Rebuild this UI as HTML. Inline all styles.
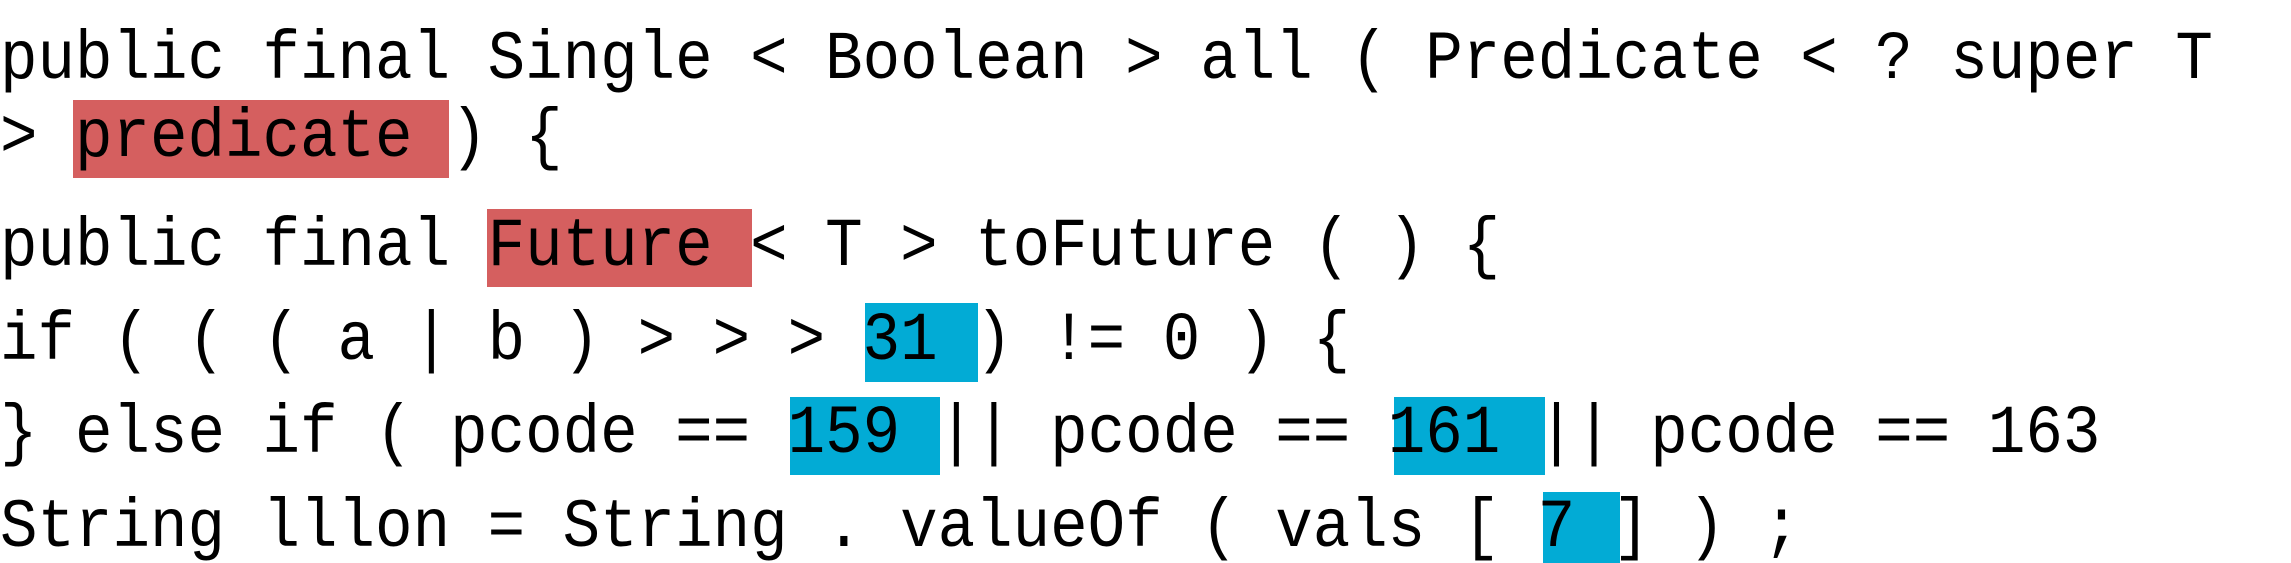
<!DOCTYPE html>
<html><head><meta charset="utf-8"><style>
html,body{margin:0;padding:0;background:#fff;width:2291px;height:563px;overflow:hidden;position:relative}
.b{position:absolute}
.r{background:#d55f5f}
.c{background:#02abd5}
.t{position:absolute;left:0;font-family:"Liberation Mono",monospace;font-size:62.5px;line-height:62.5px;white-space:pre;color:#000;transform:scaleY(1.1);transform-origin:0 48px}
</style></head><body>
<div class="b r" style="left:73px;top:100px;width:376px;height:78px"></div>
<div class="b r" style="left:487px;top:209px;width:265px;height:78px"></div>
<div class="b c" style="left:865px;top:303px;width:113px;height:79px"></div>
<div class="b c" style="left:790px;top:397px;width:150px;height:78px"></div>
<div class="b c" style="left:1394px;top:397px;width:151px;height:78px"></div>
<div class="b c" style="left:1543px;top:492px;width:77px;height:71px"></div>
<div class="t" style="top:31px">public final Single &lt; Boolean &gt; all ( Predicate &lt; ? super T</div>
<div class="t" style="top:109px">&gt; predicate ) {</div>
<div class="t" style="top:218px">public final Future &lt; T &gt; toFuture ( ) {</div>
<div class="t" style="top:312px">if ( ( ( a | b ) &gt; &gt; &gt; 31 ) != 0 ) {</div>
<div class="t" style="top:405px">} else if ( pcode == 159 || pcode == 161 || pcode == 163</div>
<div class="t" style="top:499px">String lllon = String . valueOf ( vals [ 7 ] ) ;</div>
</body></html>
